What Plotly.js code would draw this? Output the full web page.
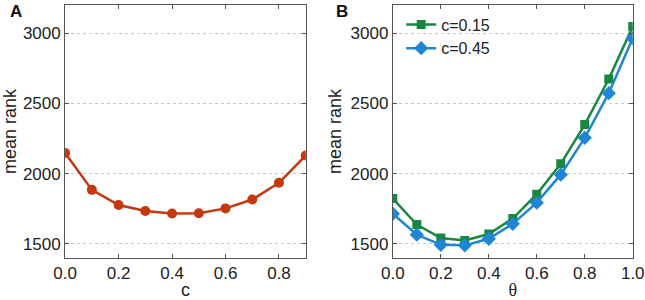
<!DOCTYPE html>
<html>
<head>
<meta charset="utf-8">
<script src="https://cdn.plot.ly/plotly-3.0.1.min.js"></script>
<style>
  html, body { margin: 0; padding: 0; background: #fff; }
  #chart { width: 645px; height: 300px; }
</style>
</head>
<body>
<div id="chart"></div>
<script>
// panel A: mean rank vs c
const cValues = [0.0, 0.1, 0.2, 0.3, 0.4, 0.5, 0.6, 0.7, 0.8, 0.9];
const rankByC = [2147, 1885, 1777, 1734, 1717, 1719, 1753, 1816, 1935, 2130];

// panel B: mean rank vs theta, for two values of c
const thetaValues = [0.0, 0.1, 0.2, 0.3, 0.4, 0.5, 0.6, 0.7, 0.8, 0.9, 1.0];
const rankC015 = [1823, 1638, 1542, 1525, 1571, 1681, 1854, 2070, 2350, 2674, 3048];
const rankC045 = [1715, 1566, 1494, 1490, 1537, 1643, 1794, 1993, 2255, 2573, 2964];

const seriesNames = ['c=0.15', 'c=0.45'];
const yTicks = [1500, 2000, 2500, 3000];

const red = 'rgb(196,56,14)';
const green = 'rgb(26,135,64)';
const blue = 'rgb(30,134,210)';

const traceA = {
  x: cValues, y: rankByC, xaxis: 'x', yaxis: 'y',
  mode: 'lines+markers', showlegend: false,
  line: { color: red, width: 2.5 },
  marker: { color: red, size: 10, symbol: 'circle' }
};

const traceB1 = {
  x: thetaValues, y: rankC015, xaxis: 'x2', yaxis: 'y2',
  name: seriesNames[0], mode: 'lines+markers',
  line: { color: green, width: 2.5 },
  marker: { color: green, size: 9, symbol: 'square' }
};

const traceB2 = {
  x: thetaValues, y: rankC045, xaxis: 'x2', yaxis: 'y2',
  name: seriesNames[1], mode: 'lines+markers',
  line: { color: blue, width: 2.5 },
  marker: { color: blue, size: 11, symbol: 'diamond' }
};

const fontFam = 'Liberation Sans, Arial, sans-serif';

function xAxis(domain, range, title, titleFont, anchor) {
  return {
    domain: domain, range: range, dtick: 0.2, tick0: 0,
    tickformat: '.1f', anchor: anchor,
    showgrid: false, zeroline: false,
    showline: true, linecolor: '#555', linewidth: 1, mirror: 'ticks',
    ticks: 'inside', ticklen: 4, tickcolor: '#555',
    tickfont: { size: 17, color: '#222' },
    title: { text: title, font: { size: 18, color: '#222', family: titleFont }, standoff: 0 }
  };
}

function yAxis(domain, anchor) {
  return {
    domain: domain, range: [1400, 3200], tickvals: yTicks, anchor: anchor,
    showgrid: true, gridcolor: '#c8c8c8', griddash: 'dot', gridwidth: 1,
    zeroline: false,
    showline: true, linecolor: '#555', linewidth: 1, mirror: 'ticks',
    ticks: 'inside', ticklen: 4, tickcolor: '#555',
    tickfont: { size: 17, color: '#222' },
    title: { text: 'mean rank', font: { size: 18, color: '#222' }, standoff: 4 }
  };
}

const layout = {
  width: 645, height: 300,
  margin: { l: 0, r: 0, t: 0, b: 0 },
  paper_bgcolor: '#fff', plot_bgcolor: '#fff',
  font: { family: fontFam },
  xaxis: xAxis([0.101, 0.474], [0, 0.9], 'c', fontFam, 'y'),
  yaxis: yAxis([0.14, 0.983], 'x'),
  xaxis2: xAxis([0.609, 0.981], [0, 1], 'θ', 'Liberation Serif, serif', 'y2'),
  yaxis2: yAxis([0.14, 0.983], 'x2'),
  legend: {
    x: 0.622, y: 0.975, xanchor: 'left', yanchor: 'top',
    bgcolor: 'rgba(0,0,0,0)', borderwidth: 0,
    font: { size: 16, color: '#222' }, itemwidth: 30, tracegroupgap: 0
  },
  annotations: [
    { text: '<b>A</b>', x: 0.012, y: 1.0, xref: 'paper', yref: 'paper',
      xanchor: 'left', yanchor: 'top', showarrow: false, font: { size: 17, color: '#111' } },
    { text: '<b>B</b>', x: 0.518, y: 1.0, xref: 'paper', yref: 'paper',
      xanchor: 'left', yanchor: 'top', showarrow: false, font: { size: 17, color: '#111' } }
  ]
};

Plotly.newPlot('chart', [traceA, traceB1, traceB2], layout, { staticPlot: true });
</script>
</body>
</html>
